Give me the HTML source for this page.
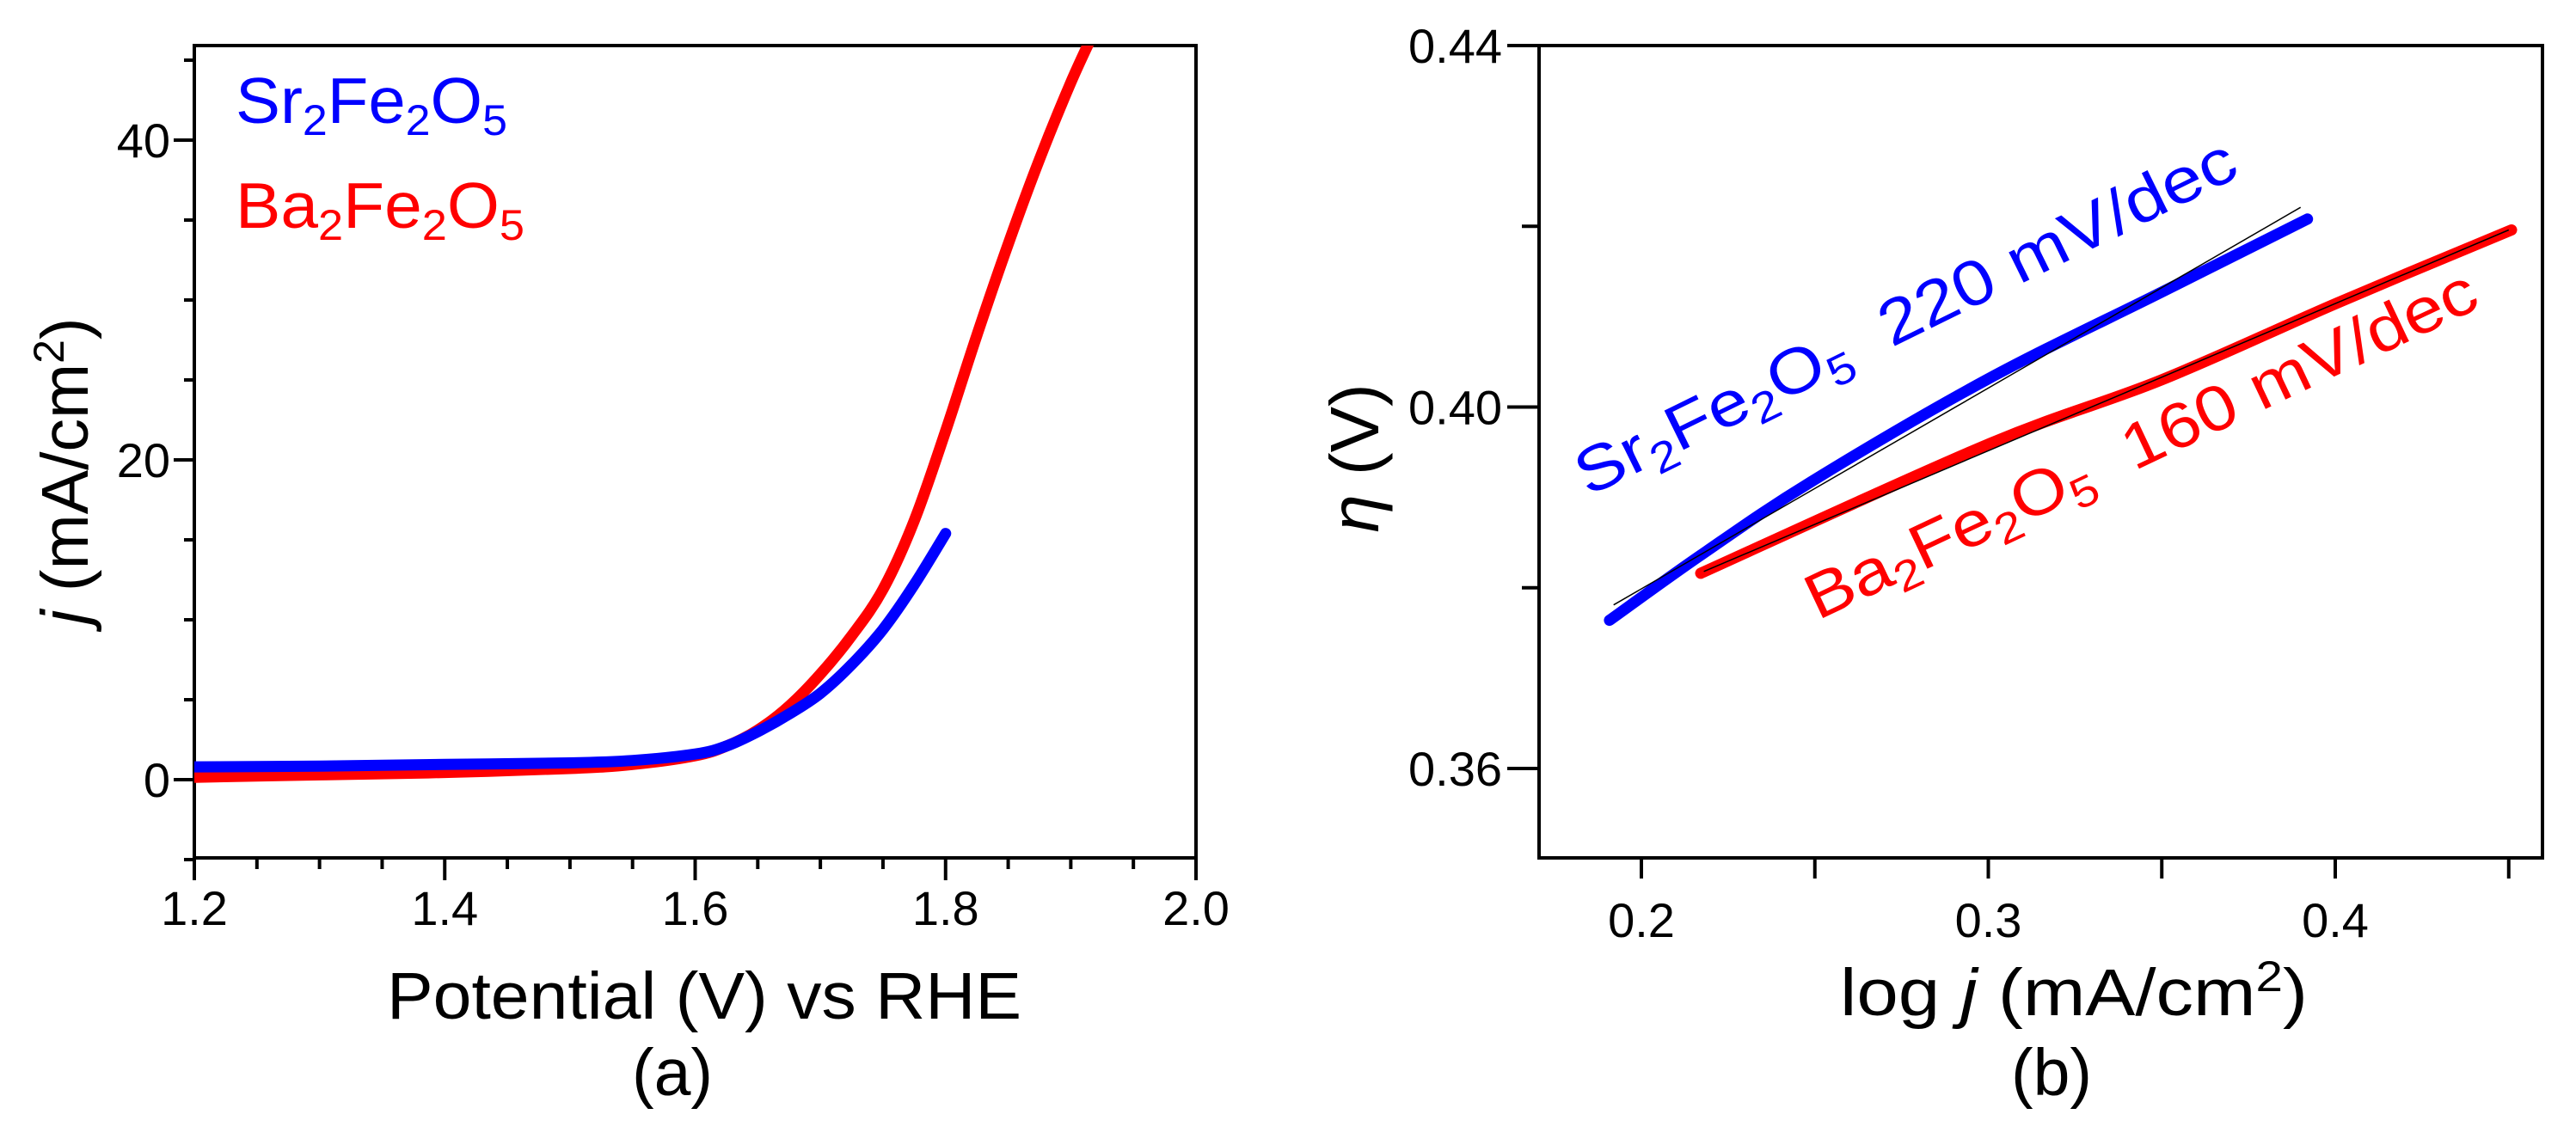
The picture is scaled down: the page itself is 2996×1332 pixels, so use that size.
<!DOCTYPE html>
<html><head><meta charset="utf-8"><style>
html,body{margin:0;padding:0;background:#fff;}
svg{display:block;font-family:"Liberation Sans",sans-serif;}
</style></head><body>
<svg id="fig" width="2996" height="1332" viewBox="0 0 2996 1332" xmlns="http://www.w3.org/2000/svg">
<g id="pa"></g>
<g id="pb"></g>
</svg>
<script>
// Panel (a) data
const aSrX = [1.2, 1.3, 1.4, 1.5, 1.55, 1.6, 1.625, 1.65, 1.675, 1.7, 1.725, 1.75, 1.775, 1.8];
const aSrY = [0.8, 0.85, 0.95, 1.05, 1.2, 1.6, 2.1, 3.0, 4.1, 5.4, 7.2, 9.4, 12.2, 15.4];
const aBaX = [1.2, 1.3, 1.4, 1.5, 1.55, 1.6, 1.625, 1.65, 1.675, 1.7, 1.725, 1.75, 1.775, 1.8, 1.825, 1.85, 1.875, 1.9, 1.92];
const aBaY = [0.15, 0.3, 0.45, 0.7, 0.95, 1.5, 2.1, 3.1, 4.6, 6.6, 9.0, 11.9, 16.2, 21.8, 27.8, 33.5, 38.8, 43.6, 47];
const aXTicks = [1.2, 1.4, 1.6, 1.8, 2.0];
const aXTickLabels = ["1.2", "1.4", "1.6", "1.8", "2.0"];
const aYTicks = [0, 20, 40];
const aYTickLabels = ["0", "20", "40"];
// Panel (b) data
const bSrX = [0.1908, 0.2171, 0.2488, 0.2994, 0.3499, 0.392];
const bSrY = [0.3764, 0.3836, 0.3917, 0.4030, 0.4127, 0.4208];
const bBaX = [0.2171, 0.2994, 0.3499, 0.4005, 0.4508];
const bBaY = [0.3816, 0.3958, 0.4030, 0.4115, 0.4196];
const bSrFitX = [0.192, 0.390];
const bSrFitY = [0.3781, 0.4221];
const bBaFitX = [0.218, 0.450];
const bBaFitY = [0.3818, 0.4196];
const bXTicks = [0.2, 0.3, 0.4];
const bXTickLabels = ["0.2", "0.3", "0.4"];
const bYTicks = [0.36, 0.40, 0.44];
const bYTickLabels = ["0.36", "0.40", "0.44"];

const NS = "http://www.w3.org/2000/svg";
function mk(parent, tag, attrs){const e=document.createElementNS(NS,tag);for(const k in attrs)e.setAttribute(k,attrs[k]);parent.appendChild(e);return e;}
function lin(d0,d1,r0,r1){return v=>r0+(v-d0)*(r1-r0)/(d1-d0);}
// smooth path (Catmull-Rom -> Bezier)
function path(xs,ys,fx,fy){
  const P=xs.map((x,i)=>[fx(x),fy(ys[i])]);
  let d='M'+P[0][0].toFixed(1)+','+P[0][1].toFixed(1);
  for(let i=0;i<P.length-1;i++){
    const p0=P[i-1]||P[i],p1=P[i],p2=P[i+1],p3=P[i+2]||P[i+1];
    const c1=[p1[0]+(p2[0]-p0[0])/6,p1[1]+(p2[1]-p0[1])/6];
    const c2=[p2[0]-(p3[0]-p1[0])/6,p2[1]-(p3[1]-p1[1])/6];
    d+=' C'+c1.map(v=>v.toFixed(1)).join(',')+' '+c2.map(v=>v.toFixed(1)).join(',')+' '+p2.map(v=>v.toFixed(1)).join(',');
  }
  return d;
}

// ---------- Panel A ----------
const pa = document.getElementById('pa');
const ax = lin(1.2, 2.0, 226, 1391);
const ay = lin(0, 20, 907, 535);
const aL=226,aR=1391,aT=53,aB=998;
let f = mk(pa,'rect',{x:aL,y:aT,width:aR-aL,height:aB-aT,fill:'none',stroke:'#000','stroke-width':4});


for(let k=0; k<=16; k++){
  const v=1.2+k*0.05;
  const major = k%4===0;
  const t=mk(pa,'line',{x1:ax(v),x2:ax(v),y1:aB,y2:aB+(major?26:13),stroke:'#000','stroke-width':4});
  
  
}
aXTicks.forEach((v,i)=>{
  const t=mk(pa,'text',{x:ax(v),y:1076,'font-size':56,'text-anchor':'middle',fill:'#000'});
  t.textContent=aXTickLabels[i];
  
  
});
for(let v=-5; v<=45; v+=5){
  const major = v%20===0;
  const t=mk(pa,'line',{x1:aL,x2:aL-(major?24:12),y1:ay(v),y2:ay(v),stroke:'#000','stroke-width':4});
  
  
}
aYTicks.forEach((v,i)=>{
  const t=mk(pa,'text',{x:198,y:ay(v)+20,'font-size':56,'text-anchor':'end',fill:'#000'});
  t.textContent=aYTickLabels[i];
  
  
});
const cp=mk(pa,'clipPath',{id:'clipa'});
mk(cp,'rect',{x:aL,y:aT,width:aR-aL,height:aB-aT});
let p=mk(pa,'path',{d:path(aBaX,aBaY,ax,ay),fill:'none',stroke:'#ff0000','stroke-width':13,'stroke-linecap':'round','stroke-linejoin':'round','clip-path':'url(#clipa)'});


p=mk(pa,'path',{d:path(aSrX,aSrY,ax,ay),fill:'none',stroke:'#0000ff','stroke-width':13,'stroke-linecap':'round','stroke-linejoin':'round','clip-path':'url(#clipa)'});



// ---------- Panel B ----------
const pb = document.getElementById('pb');
const bx = lin(0.2, 0.3, 1909, 2312.5);
const by = lin(0.36, 0.40, 894, 473.5);
const bL=1790,bR=2957,bT=53,bB=998;
f = mk(pb,'rect',{x:bL,y:bT,width:bR-bL,height:bB-bT,fill:'none',stroke:'#000','stroke-width':4});


[0.2,0.25,0.3,0.35,0.4,0.45].forEach(v=>{
  const t=mk(pb,'line',{x1:bx(v),x2:bx(v),y1:bB,y2:bB+24,stroke:'#000','stroke-width':4});
  
  
});
bXTicks.forEach((v,i)=>{
  const t=mk(pb,'text',{x:bx(v),y:1090,'font-size':56,'text-anchor':'middle',fill:'#000'});
  t.textContent=bXTickLabels[i];
  
  
});
[0.36,0.38,0.40,0.42,0.44].forEach((v,i)=>{
  const major = i%2===0;
  const t=mk(pb,'line',{x1:bL,x2:bL-(major?37:20),y1:by(v),y2:by(v),stroke:'#000','stroke-width':4});
  
  
});
bYTicks.forEach((v,i)=>{
  const t=mk(pb,'text',{x:1747,y:by(v)+20,'font-size':56,'text-anchor':'end',fill:'#000'});
  t.textContent=bYTickLabels[i];
  
  
});
p=mk(pb,'path',{d:path(bSrX,bSrY,bx,by),fill:'none',stroke:'#0000ff','stroke-width':13,'stroke-linecap':'round','stroke-linejoin':'round'});


p=mk(pb,'path',{d:path(bBaX,bBaY,bx,by),fill:'none',stroke:'#ff0000','stroke-width':13,'stroke-linecap':'round','stroke-linejoin':'round'});


p=mk(pb,'path',{d:path(bSrFitX,bSrFitY,bx,by),fill:'none',stroke:'#000','stroke-width':1.5});


p=mk(pb,'path',{d:path(bBaFitX,bBaFitY,bx,by),fill:'none',stroke:'#000','stroke-width':1.5});


</script>
<svg width="2996" height="1332" viewBox="0 0 2996 1332" style="position:absolute;left:0;top:0;font-family:'Liberation Sans',sans-serif">
  <text x="274" y="143" font-size="75" fill="#0000ff" textLength="316" lengthAdjust="spacingAndGlyphs">Sr<tspan font-size="50" dy="14">2</tspan><tspan dy="-14">Fe</tspan><tspan font-size="50" dy="14">2</tspan><tspan dy="-14">O</tspan><tspan font-size="50" dy="14">5</tspan></text>
  <text x="274" y="265" font-size="75" fill="#ff0000" textLength="336" lengthAdjust="spacingAndGlyphs">Ba<tspan font-size="50" dy="14">2</tspan><tspan dy="-14">Fe</tspan><tspan font-size="50" dy="14">2</tspan><tspan dy="-14">O</tspan><tspan font-size="50" dy="14">5</tspan></text>
  <text x="450" y="1185" font-size="77" fill="#000" textLength="738" lengthAdjust="spacingAndGlyphs">Potential (V) vs RHE</text>
  <text x="782" y="1274" font-size="77" fill="#000" text-anchor="middle">(a)</text>
  <text transform="translate(102,548) rotate(-90)" font-size="77" fill="#000" text-anchor="middle"><tspan font-style="italic">j</tspan> (mA/cm<tspan font-size="50" dy="-28">2</tspan><tspan dy="28">)</tspan></text>
  <text x="2140" y="1181" font-size="77" fill="#000" textLength="544" lengthAdjust="spacingAndGlyphs">log <tspan font-style="italic">j</tspan> (mA/cm<tspan font-size="50" dy="-28">2</tspan><tspan dy="28">)</tspan></text>
  <text x="2386" y="1274" font-size="77" fill="#000" text-anchor="middle">(b)</text>
  <text transform="translate(1603,533) rotate(-90)" font-size="80" fill="#000" text-anchor="middle"><tspan font-style="italic">η</tspan> (V)</text>
  <text transform="translate(1847,578) rotate(-26.2)" font-size="74" fill="#0000ff" textLength="847" lengthAdjust="spacingAndGlyphs">Sr<tspan font-size="50" dy="14">2</tspan><tspan dy="-14">Fe</tspan><tspan font-size="50" dy="14">2</tspan><tspan dy="-14">O</tspan><tspan font-size="50" dy="14">5</tspan><tspan dy="-14" xml:space="preserve">  220 mV/dec</tspan></text>
  <text transform="translate(2114,722) rotate(-25.3)" font-size="74" fill="#ff0000" textLength="855" lengthAdjust="spacingAndGlyphs">Ba<tspan font-size="50" dy="14">2</tspan><tspan dy="-14">Fe</tspan><tspan font-size="50" dy="14">2</tspan><tspan dy="-14">O</tspan><tspan font-size="50" dy="14">5</tspan><tspan dy="-14" xml:space="preserve">  160 mV/dec</tspan></text>
</svg>
</body></html>
